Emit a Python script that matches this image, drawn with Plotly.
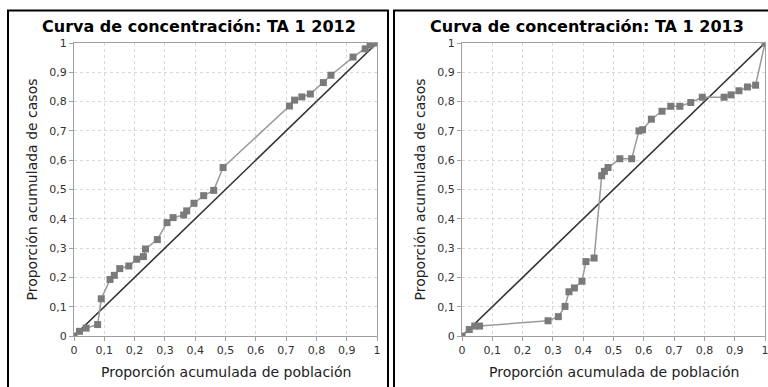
import plotly.graph_objects as go

# Cumulative proportion of population (x) vs cumulative proportion of cases (y)
pob_2012 = [0, 0.018, 0.040, 0.078, 0.090, 0.119, 0.133, 0.151, 0.181, 0.207, 0.229,
            0.236, 0.275, 0.307, 0.327, 0.362, 0.372, 0.396, 0.428, 0.461, 0.492,
            0.711, 0.728, 0.752, 0.780, 0.823, 0.848, 0.921, 0.961, 0.977, 1.0]
casos_2012 = [0, 0.016, 0.027, 0.039, 0.127, 0.193, 0.207, 0.230, 0.239, 0.262, 0.271,
              0.297, 0.329, 0.387, 0.404, 0.413, 0.427, 0.453, 0.479, 0.497, 0.575,
              0.785, 0.805, 0.816, 0.826, 0.865, 0.890, 0.952, 0.980, 0.993, 1.0]

pob_2013 = [0, 0.024, 0.042, 0.058, 0.284, 0.318, 0.340, 0.353, 0.371, 0.396, 0.409,
            0.436, 0.461, 0.470, 0.482, 0.521, 0.560, 0.584, 0.596, 0.625, 0.660,
            0.689, 0.719, 0.755, 0.793, 0.865, 0.888, 0.914, 0.942, 0.969, 1.0]
casos_2013 = [0, 0.022, 0.034, 0.034, 0.052, 0.066, 0.101, 0.151, 0.164, 0.187, 0.254,
              0.266, 0.547, 0.562, 0.575, 0.605, 0.605, 0.700, 0.704, 0.740, 0.767,
              0.784, 0.784, 0.797, 0.815, 0.815, 0.823, 0.837, 0.850, 0.856, 1.0]

igualdad = [0, 1]

tick_vals = [0, 0.1, 0.2, 0.3, 0.4, 0.5, 0.6, 0.7, 0.8, 0.9, 1]
tick_text = ["0", "0,1", "0,2", "0,3", "0,4", "0,5", "0,6", "0,7", "0,8", "0,9", "1"]

titulos = ["Curva de concentración: TA 1 2012", "Curva de concentración: TA 1 2013"]
titulo_x = "Proporción acumulada de población"
titulo_y = "Proporción acumulada de casos"

W, H = 768, 387
FONT = "DejaVu Sans"

fig = go.Figure()

series = [(pob_2012, casos_2012, "x", "y"), (pob_2013, casos_2013, "x2", "y2")]
for px, py, xa, ya in series:
    fig.add_trace(go.Scatter(
        x=igualdad, y=igualdad, xaxis=xa, yaxis=ya, mode="lines",
        line=dict(color="#333333", width=1.6), showlegend=False, hoverinfo="skip"))
    fig.add_trace(go.Scatter(
        x=px, y=py, xaxis=xa, yaxis=ya, mode="lines+markers",
        line=dict(color="#9a9a9a", width=1.5),
        marker=dict(symbol="square", size=7, color="#7a7a7a"),
        showlegend=False))

# plot-area geometry in pixels
plots = [(74, 377), (462, 765)]
y_top, y_bot = 43, 336
ydom = [1 - y_bot / H, 1 - y_top / H]

axis_common = dict(
    range=[0, 1], tickvals=tick_vals, ticktext=tick_text,
    showgrid=True, gridcolor="#d8d8d8", griddash="3px,3px", gridwidth=1,
    showline=True, linecolor="#a0a0a0", linewidth=1, mirror=True,
    ticks="outside", ticklen=4, tickcolor="#a0a0a0",
    tickfont=dict(family=FONT, size=11, color="#333333"),
    ticklabeloverflow="allow",
    zeroline=False, fixedrange=True, automargin=False,
)

layout = dict(
    width=W, height=H, margin=dict(l=0, r=0, t=0, b=0, autoexpand=False),
    paper_bgcolor="white", plot_bgcolor="white",
    font=dict(family=FONT), showlegend=False,
)
for i, (x0, x1) in enumerate(plots):
    sx = "" if i == 0 else str(i + 1)
    layout["xaxis" + sx] = dict(axis_common, domain=[x0 / W, x1 / W], anchor="y" + sx)
    layout["yaxis" + sx] = dict(axis_common, domain=ydom, anchor="x" + sx)

fig.update_layout(**layout)

# axis titles, placed in paper coordinates
for x0, x1 in plots:
    fig.add_annotation(xref="paper", yref="paper", x=(x0 + x1) / 2 / W, y=1 - 372 / H,
                       text=titulo_x, showarrow=False, xanchor="center", yanchor="middle",
                       font=dict(family=FONT, size=14, color="#222222"))
    fig.add_annotation(xref="paper", yref="paper", x=(x0 - 43) / W, y=1 - (y_top + y_bot) / 2 / H,
                       text=titulo_y, showarrow=False, xanchor="center", yanchor="middle",
                       textangle=-90, font=dict(family=FONT, size=14, color="#222222"))

# panel frames and titles
frames = [(8, 388), (394, 780)]
for (f0, f1), txt, (x0, x1) in zip(frames, titulos, plots):
    fig.add_shape(type="rect", xref="paper", yref="paper",
                  x0=f0 / W, x1=f1 / W, y0=-0.1, y1=1 - 10.5 / H,
                  line=dict(color="black", width=2), fillcolor="rgba(0,0,0,0)")
    fig.add_annotation(xref="paper", yref="paper", x=(x0 + x1) / 2 / W - 27 / W,
                       y=1 - 26 / H, text="<b>" + txt + "</b>", showarrow=False,
                       font=dict(family=FONT, size=16, color="black"),
                       xanchor="center", yanchor="middle")

fig.write_html("out.html")
